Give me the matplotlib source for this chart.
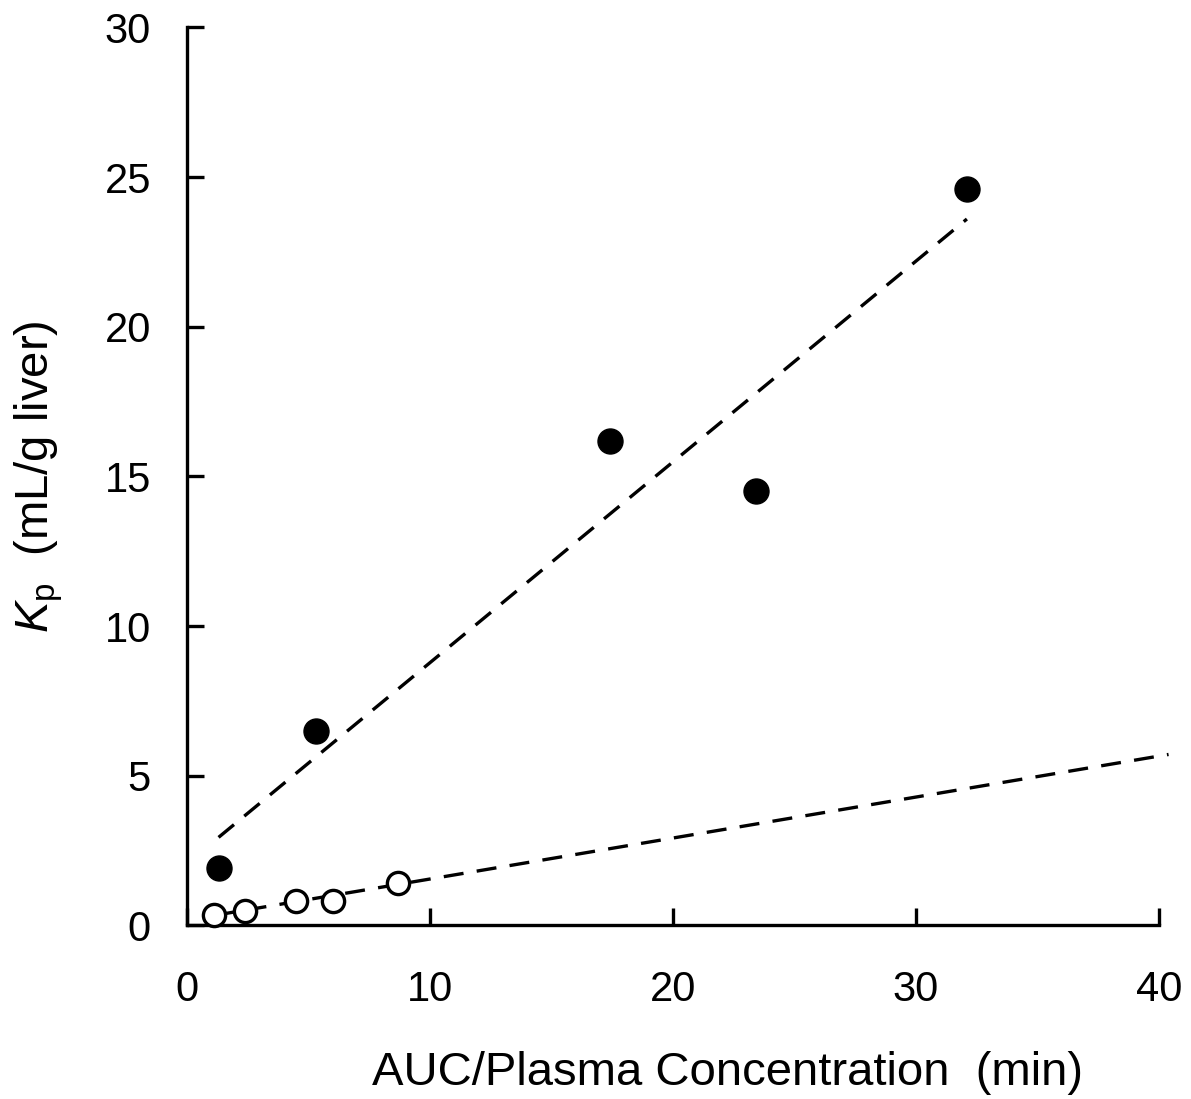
import matplotlib
matplotlib.use("Agg")
import matplotlib.pyplot as plt
import numpy as np

plt.rcParams['font.family'] = ['Liberation Sans', 'DejaVu Sans']
plt.rcParams['mathtext.fontset'] = 'custom'
plt.rcParams['mathtext.rm'] = 'Liberation Sans'
plt.rcParams['mathtext.it'] = 'Liberation Sans:italic'

# Data
filled_x = [1.3, 5.3, 17.4, 23.4, 32.1]
filled_y = [1.9, 6.5, 16.2, 14.5, 24.6]
open_x = [1.1, 2.4, 4.5, 6.0, 8.7]
open_y = [0.33, 0.47, 0.83, 0.83, 1.40]

fit_filled_x = [1.3, 32.1]
fit_filled_y = [2.94, 23.6]
fit_open_x = [1.1, 40.4]
fit_open_y = [0.33, 5.71]

xticks = [0, 10, 20, 30, 40]
yticks = [0, 5, 10, 15, 20, 25, 30]

fig = plt.figure(figsize=(11.91, 10.99), dpi=100)
ax = fig.add_axes([0.157, 0.158, 0.816, 0.817])

ax.plot(fit_filled_x, fit_filled_y, color='black', lw=2.4, dashes=(6, 4), zorder=2)
ax.plot(fit_open_x, fit_open_y, color='black', lw=2.4, dashes=(6, 4), zorder=2, clip_on=False)
ax.plot(filled_x, filled_y, 'o', color='black', ms=18, zorder=3, clip_on=False)
ax.plot(open_x, open_y, 'o', mfc='white', mec='black', ms=16, mew=2.4, zorder=3, clip_on=False)

ax.set_xlim(0, 40)
ax.set_ylim(0, 30)
ax.set_xticks(xticks)
ax.set_yticks(yticks)
for s in ['top', 'right']:
    ax.spines[s].set_visible(False)
for s in ['left', 'bottom']:
    ax.spines[s].set_linewidth(2.4)
ax.tick_params(direction='in', length=12, width=2.4, labelsize=30)
ax.tick_params(axis='x', pad=32)
ax.tick_params(axis='y', pad=26)

ax.set_xlabel('AUC/Plasma Concentration  (min)', fontsize=34)
ax.xaxis.set_label_coords(0.556, -0.164)
ax.xaxis.label.set_va('center')
ax.set_ylabel(r'$K_{\mathrm{p}}$  (mL/g liver)', fontsize=34, labelpad=28)

fig.savefig('out.png', dpi=100)
